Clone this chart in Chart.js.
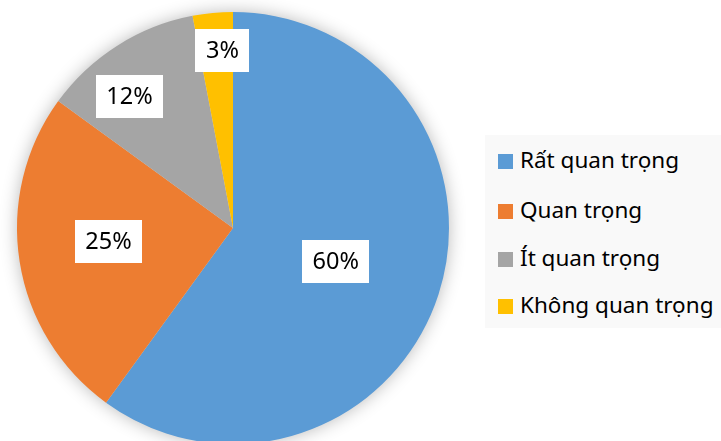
<!DOCTYPE html>
<html>
<head>
<meta charset="utf-8">
<script src="https://cdn.jsdelivr.net/npm/chart.js@4"></script>
<style>
  body { margin: 0; width: 721px; height: 441px; overflow: hidden; background: #fff; position: relative; font-family: "Noto Sans", sans-serif; }
  #pieBox { position: absolute; left: 0; top: 0; width: 466px; height: 470px; }
  #legend { position: absolute; left: 485px; top: 135px; width: 236px; height: 193px; background: #f9f9f9; }
  .item { position: absolute; left: 13px; height: 30px; line-height: 30px; font-size: 22.5px; color: #000; white-space: nowrap; }
  .item span { display: inline-block; width: 15px; height: 15px; margin-right: 7px; vertical-align: -1px; }
</style>
</head>
<body>
<div id="pieBox"><canvas id="pieChart"></canvas></div>
<div id="legend"></div>
<script>
// Pie data
const categories = ['Rất quan trọng', 'Quan trọng', 'Ít quan trọng', 'Không quan trọng'];
const percents = [60, 25, 12, 3];
const sliceColors = ['#5B9BD5', '#ED7D31', '#A5A5A5', '#FFC000'];

// where each label sits, as a fraction of the radius and a small turn (deg)
const labelDist = [0.5, 0.58, 0.776, 0.825];
const labelTurn = [0, 2.8, -5.7, 2];

// soft shadow behind the whole pie
const pieShadow = {
    id: 'pieShadow',
    beforeDatasetsDraw(chart) {
        const arc = chart.getDatasetMeta(0).data[0];
        const ctx = chart.ctx;
        ctx.save();
        ctx.shadowColor = 'rgba(0,0,0,0.3)';
        ctx.shadowBlur = 18;
        ctx.fillStyle = '#ddd';
        ctx.beginPath();
        ctx.arc(arc.x, arc.y, arc.outerRadius - 1, 0, Math.PI * 2);
        ctx.fill();
        ctx.restore();
    }
};

// white boxed percentage labels
const boxLabels = {
    id: 'boxLabels',
    afterDatasetsDraw(chart) {
        const ctx = chart.ctx;
        ctx.save();
        ctx.font = '23.5px "Noto Sans"';
        ctx.textAlign = 'center';
        ctx.textBaseline = 'middle';
        chart.getDatasetMeta(0).data.forEach((arc, i) => {
            const mid = (arc.startAngle + arc.endAngle) / 2 + labelTurn[i] * Math.PI / 180;
            const r = arc.outerRadius * labelDist[i];
            const x = arc.x + Math.cos(mid) * r;
            const y = arc.y + Math.sin(mid) * r;
            const txt = percents[i] + '%';
            const w = ctx.measureText(txt).width + 21;
            const h = 43;
            ctx.fillStyle = '#fff';
            ctx.fillRect(Math.round(x - w / 2), Math.round(y - h / 2), Math.round(w), h);
            ctx.fillStyle = '#000';
            ctx.fillText(txt, x, y + 1);
        });
        ctx.restore();
    }
};

const pieChart = new Chart(document.getElementById('pieChart').getContext('2d'), {
    type: 'pie',
    data: {
        labels: categories,
        datasets: [{
            data: percents,
            backgroundColor: sliceColors,
            borderWidth: 0,
            hoverOffset: 0
        }]
    },
    options: {
        responsive: true,
        maintainAspectRatio: false,
        animation: false,
        layout: { padding: { left: 17, top: 12, right: 17, bottom: 26 } },
        plugins: {
            legend: { display: false },
            tooltip: { enabled: false }
        }
    },
    plugins: [pieShadow, boxLabels]
});

// legend on the right
const legend = document.getElementById('legend');
const rowTop = [10, 60, 108, 155];
categories.forEach((name, i) => {
    const el = document.createElement('div');
    el.className = 'item';
    el.style.top = rowTop[i] + 'px';
    el.innerHTML = '<span style="background:' + sliceColors[i] + '"></span>' + name;
    legend.appendChild(el);
});
</script>
</body>
</html>
